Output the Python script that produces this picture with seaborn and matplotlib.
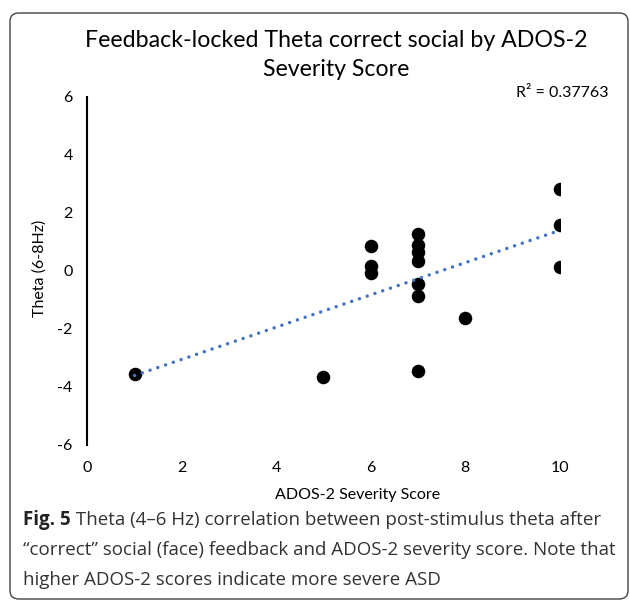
import matplotlib
matplotlib.use("Agg")
import matplotlib.pyplot as plt
import seaborn as sns
import pandas as pd
from matplotlib.patches import FancyBboxPatch

# values
ados_score = [1, 5, 6, 6, 6, 7, 7, 7, 7, 7, 7, 7, 8, 10, 10, 10]
theta = [-3.55, -3.67, 0.86, 0.15, -0.06, 1.28, 0.90, 0.64, 0.33,
         -0.45, -0.86, -3.44, -1.62, 2.82, 1.59, 0.13]
x_ticks = [0, 2, 4, 6, 8, 10]
y_ticks = [-6, -4, -2, 0, 2, 4, 6]
y_tick_labels = ["-6", "-4", "-2", "0", "2", "4", "6"]

title = "Feedback-locked Theta correct social by ADOS-2\nSeverity Score"
x_label = "ADOS-2 Severity Score"
y_label = "Theta (6-8Hz)"
r2_text = "R² = 0.37763"
caption_bold = "Fig. 5"
caption_lines = [
    " Theta (4–6 Hz) correlation between post-stimulus theta after",
    "“correct” social (face) feedback and ADOS-2 severity score. Note that",
    "higher ADOS-2 scores indicate more severe ASD",
]

df = pd.DataFrame({"ados": ados_score, "theta": theta})

sns.set_theme(style="white")
plt.rcParams["font.family"] = ["Lato", "DejaVu Sans"]

W, H = 630, 601
fig = plt.figure(figsize=(W / 100, H / 100), dpi=100)
ax = fig.add_axes([87.3 / W, 1 - 445 / H, (559.5 - 87.3) / W, (445 - 96.7) / H])

sns.scatterplot(data=df, x="ados", y="theta", color="black", s=95,
                edgecolor="black", linewidth=0, ax=ax, zorder=2)
sns.regplot(data=df, x="ados", y="theta", scatter=False, ci=None, ax=ax,
            line_kws=dict(color="#4472C4", lw=2.5, ls=(0, (0.01, 2.35)),
                          dash_capstyle="round", zorder=3))

ax.set_xlim(0, 10)
ax.set_ylim(-6, 6)
ax.set_xticks(x_ticks, labels=[str(t) for t in x_ticks])
ax.set_yticks(y_ticks, labels=y_tick_labels)
ax.tick_params(axis="x", length=0, pad=11.5, labelsize=11.5, colors="black")
ax.tick_params(axis="y", length=0, pad=10.5, labelsize=11.5, colors="black")
for side in ["top", "right", "bottom"]:
    ax.spines[side].set_visible(False)
ax.spines["left"].set_color("black")
ax.spines["left"].set_linewidth(1.5)
ax.grid(False)

ax.set_xlabel(x_label, fontsize=11.5, color="black")
ax.xaxis.set_label_coords((358 - 87.3) / 472.2, -(495 - 445) / 348.3)
ax.xaxis.label.set_va("center")
ax.set_ylabel(y_label, fontsize=11.5, color="black")
ax.yaxis.set_label_coords((40 - 87.3) / 472.2, (445 - 268) / 348.3)
ax.yaxis.label.set_va("center")

fig.text(336 / W, 1 - 55 / H, title, ha="center", va="center",
         fontsize=16.7, linespacing=1.5, color="black")
fig.text(608 / W, 1 - 93 / H, r2_text, ha="right", va="center",
         fontsize=11.5, color="black")

# caption under the chart, bold figure number then plain text
cap_font = ["Open Sans", "DejaVu Sans"]
cap_x = 23 / W
cap_y = [520, 550, 580]
cap_size = 13.5
t0 = fig.text(cap_x, 1 - cap_y[0] / H, caption_bold, ha="left", va="center",
              fontsize=cap_size, fontweight="bold", family=cap_font, color="#222222")
fig.canvas.draw()
bb = t0.get_window_extent(renderer=fig.canvas.get_renderer())
fig.text(bb.x1 / W, 1 - cap_y[0] / H, caption_lines[0], ha="left", va="center",
         fontsize=cap_size, family=cap_font, color="#333333")
for line, yy in zip(caption_lines[1:], cap_y[1:]):
    fig.text(cap_x, 1 - yy / H, line, ha="left", va="center",
             fontsize=cap_size, family=cap_font, color="#333333")

frame = FancyBboxPatch((10 / W, 1 - 599 / H), 618 / W, 586 / H,
                       boxstyle="round,pad=0,rounding_size=0.014",
                       transform=fig.transFigure, fill=False,
                       edgecolor="#444444", lw=1.0)
fig.patches.append(frame)

fig.savefig("out.png", dpi=100)
